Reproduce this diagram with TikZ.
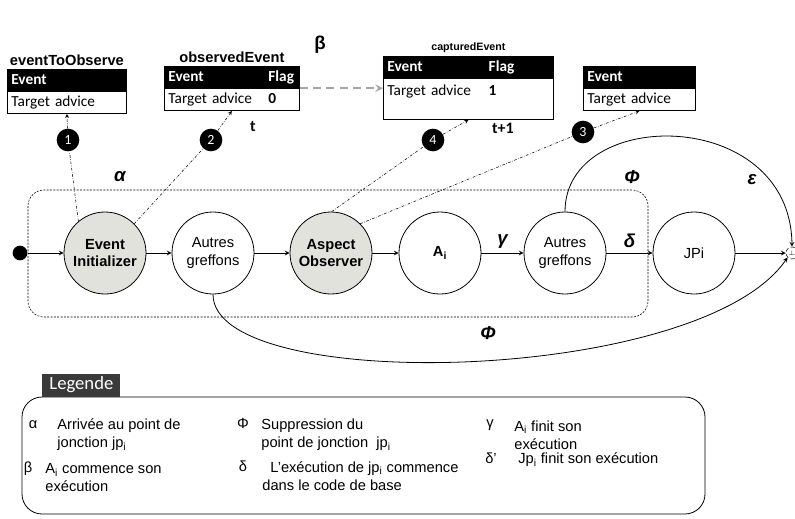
\documentclass[tikz,border=0pt]{standalone}
\usepackage{fontspec}
\setmainfont{Liberation Sans}
\newfontfamily\calfont{Carlito}
\usetikzlibrary{arrows, automata, positioning}

\definecolor{nodegrey}{RGB}{226,226,221}
\definecolor{legendgrey}{RGB}{58,58,58}
\definecolor{flowgrey}{RGB}{165,165,165}

\begin{document}
\begin{tikzpicture}[
            x = 0.75pt, y = 0.75pt, % one unit per pixel
            > = stealth, % arrow head style
            semithick, % line style
            tabhead/.style = {fill = black, draw = black, text = white, font = \calfont\bfseries\fontsize{11.5}{12}\selectfont,
                inner xsep = 3pt, inner ysep = 0pt, minimum height = 16pt, align = left},
            tabbody/.style = {draw = black, fill = white, font = \calfont\fontsize{11.5}{12}\selectfont,
                inner xsep = 3pt, inner ysep = 0pt, minimum height = 16.5pt, align = left},
            tabtitle/.style = {font = \bfseries\fontsize{11}{13}\selectfont, inner sep = 1pt},
            numdot/.style = {circle, fill = black, text = white, font = \calfont\fontsize{10.5}{11}\selectfont,
                minimum size = 17pt, inner sep = 0pt},
            obsline/.style = {->, thin, dash pattern = on 2pt off 1.2pt on 0.4pt off 1.2pt},
            greek/.style = {font = \bfseries\itshape\fontsize{14}{16}\selectfont},
            keystate/.style = {fill = nodegrey, font = \bfseries\fontsize{11}{13}\selectfont},
            legsym/.style = {font = \fontsize{11}{13}\selectfont, inner sep = 0pt},
            legtext/.style = {font = \fontsize{11}{13.5}\selectfont, align = left, anchor = west, inner sep = 0pt}
        ]

        \tikzstyle{every state}=[
            draw = black,
            semithick,
            fill = white,
            minimum size = 61.5pt,
            inner sep = 0pt,
            font = \fontsize{11}{13}\selectfont,
            align = center
        ]

        \useasboundingbox (0,0) rectangle (795,-518);

        % main flow
        \node[circle, fill = black, minimum size = 11pt, inner sep = 0pt] (start) at (20,-253) {};
        \node[state, keystate] (ei) at (105,-253) {Event\\Initializer};
        \node[state] (ag1) at (213,-253) {Autres\\greffons};
        \node[state, keystate] (ao) at (331,-253) {Aspect\\Observer};
        \node[state, font = \bfseries\fontsize{11}{13}\selectfont] (ai) at (440,-253) {A\textsubscript{i}};
        \node[state] (ag2) at (565,-253) {Autres\\greffons};
        \node[state] (jp) at (694,-253) {JPi};
        \node[circle, draw, densely dashed, thin, minimum size = 9pt, inner sep = 0pt, font = \fontsize{4}{4}\selectfont] (fin) at (792,-253) {$\perp$};

        \draw[thin, dash pattern = on 1.5pt off 1pt, rounded corners = 12pt] (28,-190) rectangle (648,-317);

        \path[->] (start) edge (ei);
        \path[->] (ei) edge (ag1);
        \path[->] (ag1) edge (ao);
        \path[->] (ao) edge (ai);
        \path[->] (ai) edge node[greek, above] {γ} (ag2);
        \path[->] (ag2) edge node[greek, above] {δ} (jp);
        \path[->] (jp) edge (fin);

        \draw[->] (ag2.north) .. controls (565,-106) and (790,-106) .. (fin.north);
        \draw[->] (ag1.south) .. controls (213,-395) and (700,-385) .. (fin.south west);

        \node[greek] (alpha) at (120,-177) {α};
        \node[greek] (phitop) at (632,-177) {Φ};
        \node[greek] (eps) at (752,-180) {ε};
        \node[greek] (phibot) at (488,-333) {Φ};
        \node[font = \bfseries\fontsize{14}{16}\selectfont] (beta) at (320,-45) {β};

        % tables
        \node[tabhead, text width = 83.25pt, anchor = north west] (t1h) at (7,-69) {Event};
        \node[tabbody, text width = 83.25pt, below = 0pt of t1h] (t1) {Target advice};
        \node[tabtitle, above = 1pt of t1h] (t1t) {eventToObserve};

        \node[tabhead, text width = 95.25pt, anchor = north west] (t2h) at (164,-66) {\makebox[75pt][l]{Event}Flag};
        \node[tabbody, text width = 95.25pt, below = 0pt of t2h] (t2) {\makebox[75pt][l]{Target advice}\textbf{0}};
        \node[tabtitle, above = 1pt of t2h] (t2t) {observedEvent};

        \node[tabhead, text width = 121.5pt, anchor = north west] (t3h) at (383,-56) {\makebox[76pt][l]{Event}Flag};
        \node[tabbody, text width = 121.5pt, minimum height = 30.75pt, text depth = 14pt, below = 0pt of t3h] (t3) {\makebox[76pt][l]{Target advice}\textbf{1}};
        \node[tabtitle, font = \bfseries\fontsize{8}{9}\selectfont, above = 1pt of t3h] (t3t) {capturedEvent};

        \node[tabhead, text width = 78pt, anchor = north west] (t4h) at (583,-66) {Event};
        \node[tabbody, text width = 78pt, below = 0pt of t4h] (t4) {Target advice};

        \node[font = \calfont\bfseries\fontsize{12}{14}\selectfont] (tt) at (253,-127) {t};
        \node[font = \calfont\bfseries\fontsize{12}{14}\selectfont] (tt1) at (503,-128) {t+1};

        \draw[->, flowgrey, line width = 1.5pt, dash pattern = on 6pt off 4pt] (t2h.south east) -- (t2h.south east -| t3.west);

        % observation steps
        \node[numdot] (n1) at (68,-140) {1};
        \node[numdot] (n2) at (211,-140) {2};
        \node[numdot] (n4) at (433,-140) {4};
        \node[numdot] (n3) at (583,-132) {3};

        \draw[obsline] (ei.130) -- (n1) -- (t1.south);
        \draw[obsline] (ei.45) -- (n2) -- (t2.south);
        \draw[obsline] (ao.89) -- (n4) -- (t3.south);
        \draw[obsline] (ao.45) -- (n3) -- (t4.south);

        % legend
        \draw[semithick, rounded corners = 15pt] (22,-397) rectangle (705,-514);
        \node[fill = legendgrey, text = white, font = \calfont\fontsize{14}{16}\selectfont, minimum width = 58.5pt,
            minimum height = 17.25pt, inner sep = 0pt, anchor = south west] (legtitle) at (42,-397) {Legende};

        \node[legsym] (la) at (33,-425) {α};
        \node[legtext] (lat) at (57,-435) {Arrivée au point de\\jonction jp\textsubscript{i}};
        \node[legsym] (lb) at (28,-469) {β};
        \node[legtext] (lbt) at (45,-478) {A\textsubscript{i} commence son\\exécution};

        \node[legsym] (lphi) at (243,-423) {Φ};
        \node[legtext] (lphit) at (261,-435) {Suppression du\\point de jonction \ jp\textsubscript{i}};
        \node[legsym] (ld) at (243,-466) {δ};
        \node[legtext] (ldt) at (262,-476) {\hspace*{6pt}L’exécution de jp\textsubscript{i} commence\\dans le code de base};

        \node[legsym] (lg) at (490,-425) {γ};
        \node[legtext] (lgt) at (514,-435) {A\textsubscript{i} finit son\\exécution};
        \node[legsym] (ldd) at (491,-458) {δ’};
        \node[legtext] (lddt) at (518,-460) {Jp\textsubscript{i} finit son exécution};
    \end{tikzpicture}
\end{document}
